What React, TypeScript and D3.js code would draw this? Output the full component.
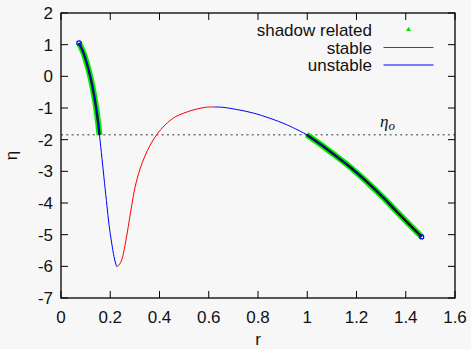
import React from "react";
import * as d3 from "d3";

// Curve segments in (r, η)
const shadowA_r = [0.0731, 0.0914, 0.1044, 0.1153, 0.1247, 0.134, 0.1421, 0.1494, 0.1563];
const shadowA_eta = [1.053, 0.737, 0.421, 0.105, -0.21, -0.589, -0.968, -1.379, -1.852];

const unstableA_r = [0.0731, 0.0914, 0.1044, 0.1153, 0.1247, 0.134, 0.1421, 0.1494, 0.1563, 0.1665, 0.1766, 0.1868, 0.1949, 0.2051, 0.2152, 0.2213, 0.2262];
const unstableA_eta = [1.053, 0.737, 0.421, 0.105, -0.21, -0.589, -0.968, -1.379, -1.852, -2.601, -3.352, -4.1, -4.678, -5.231, -5.688, -5.894, -6.011];

const stable_r = [0.2262, 0.2355, 0.2465, 0.2599, 0.2733, 0.2871, 0.3005, 0.3208, 0.3411, 0.3614, 0.3886, 0.4223, 0.4629, 0.4966, 0.5442, 0.5917, 0.6185];
const stable_eta = [-6.011, -5.957, -5.799, -5.341, -4.741, -4.078, -3.51, -2.926, -2.515, -2.184, -1.843, -1.536, -1.284, -1.167, -1.047, -0.974, -0.968];

const unstableB_r = [0.6185, 0.6579, 0.7135, 0.7809, 0.8487, 0.9165, 0.984, 0.9978, 1.0518, 1.1058, 1.1736, 1.2414, 1.3088, 1.3766, 1.4648];
const unstableB_eta = [-0.968, -0.978, -1.047, -1.158, -1.325, -1.527, -1.783, -1.843, -2.136, -2.452, -2.863, -3.327, -3.832, -4.378, -5.07];

const shadowB_r = [0.9978, 1.0518, 1.1058, 1.1736, 1.2414, 1.3088, 1.3766, 1.4648];
const shadowB_eta = [-1.843, -2.136, -2.452, -2.863, -3.327, -3.832, -4.378, -5.07];

const etaO = -1.843;

const xTicks = [0, 0.2, 0.4, 0.6, 0.8, 1, 1.2, 1.4, 1.6];
const yTicks = [-7, -6, -5, -4, -3, -2, -1, 0, 1, 2];

const legendLabels = ["shadow related", "stable", "unstable"];

const W = 471;
const H = 349;
const left = 61;
const right = 455;
const top = 13;
const bottom = 298;

export default function App() {
  const x = d3.scaleLinear().domain([0, 1.6]).range([left, right]);
  const y = d3.scaleLinear().domain([-7, 2]).range([bottom, top]);

  const line = d3
    .line<[number, number]>()
    .x((d) => x(d[0]))
    .y((d) => y(d[1]))
    .curve(d3.curveCatmullRom.alpha(0.5));

  const zip = (a: number[], b: number[]) => a.map((v, i) => [v, b[i]] as [number, number]);

  const font = "'Liberation Sans', Arial, Helvetica, sans-serif";
  const tickLen = 7;

  const legX = 372;
  const legY = [36, 53.5, 71];

  return (
    <svg
      width={W}
      height={H}
      style={{ position: "absolute", left: 0, top: 0, background: "#f7f7f7" }}
      fontFamily={font}
    >
      <rect x={0} y={0} width={W} height={H} fill="#f7f7f7" />

      {/* reference level */}
      <line
        x1={left}
        x2={right}
        y1={y(etaO)}
        y2={y(etaO)}
        stroke="#777"
        strokeWidth={1.5}
        strokeDasharray="2,3.3"
      />
      <text x={380} y={126.5} fontFamily="'Liberation Serif', 'DejaVu Serif', serif" fontStyle="italic" fontSize={17} fill="#111">
        η<tspan fontSize={13} dy={3}>o</tspan>
      </text>

      {/* shadow related bands */}
      {[zip(shadowA_r, shadowA_eta), zip(shadowB_r, shadowB_eta)].map((pts, i) => (
        <g key={"s" + i}>
          <path d={line(pts) || ""} fill="none" stroke="#00ee00" strokeWidth={6} />
          <path d={line(pts) || ""} fill="none" stroke="#111" strokeWidth={2.4} />
        </g>
      ))}

      {/* branches */}
      <path d={line(zip(unstableA_r, unstableA_eta)) || ""} fill="none" stroke="#0000ff" strokeWidth={1} />
      <path d={line(zip(stable_r, stable_eta)) || ""} fill="none" stroke="#ff0000" strokeWidth={1} />
      <path d={line(zip(unstableB_r, unstableB_eta)) || ""} fill="none" stroke="#0000ff" strokeWidth={1} />

      {/* end markers */}
      <circle cx={x(shadowA_r[0])} cy={y(shadowA_eta[0])} r={2.2} fill="none" stroke="#0000ff" strokeWidth={1.2} />
      <circle
        cx={x(shadowB_r[shadowB_r.length - 1])}
        cy={y(shadowB_eta[shadowB_eta.length - 1])}
        r={2}
        fill="none"
        stroke="#0000ff"
        strokeWidth={1.2}
      />

      {/* frame */}
      <rect x={left} y={top} width={right - left} height={bottom - top} fill="none" stroke="#000" strokeWidth={1.3} />

      {/* x ticks */}
      {xTicks.map((t) => (
        <g key={"x" + t}>
          <line x1={x(t)} x2={x(t)} y1={bottom} y2={bottom - tickLen} stroke="#000" strokeWidth={1} />
          <line x1={x(t)} x2={x(t)} y1={top} y2={top + tickLen} stroke="#000" strokeWidth={1} />
          <text x={x(t)} y={322.5} fontSize={17} textAnchor="middle" fill="#111">
            {String(t)}
          </text>
        </g>
      ))}

      {/* y ticks */}
      {yTicks.map((t) => (
        <g key={"y" + t}>
          <line x1={left} x2={left + tickLen} y1={y(t)} y2={y(t)} stroke="#000" strokeWidth={1} />
          <line x1={right} x2={right - tickLen} y1={y(t)} y2={y(t)} stroke="#000" strokeWidth={1} />
          <text x={53} y={y(t)} dy="0.36em" fontSize={17} textAnchor="end" fill="#111">
            {String(t)}
          </text>
        </g>
      ))}

      {/* axis titles */}
      <text x={(left + right) / 2} y={345} fontSize={17} textAnchor="middle" fill="#111">
        r
      </text>
      <text transform={`translate(17,${(top + bottom) / 2}) rotate(-90)`} fontSize={17} textAnchor="middle" fill="#111">
        η
      </text>

      {/* legend */}
      {legendLabels.map((lab, i) => (
        <text key={lab} x={legX} y={legY[i]} fontSize={17} textAnchor="end" fill="#111">
          {lab}
        </text>
      ))}
      <path
        d={d3.symbol().type(d3.symbolTriangle).size(10)() || ""}
        transform={`translate(408.5,29.5)`}
        fill="#00dd00"
      />
      <line x1={383.5} x2={433.5} y1={47.5} y2={47.5} stroke="#ff0000" strokeWidth={1} />
      <line x1={383.5} x2={433.5} y1={65} y2={65} stroke="#0000ff" strokeWidth={1} />
    </svg>
  );
}
